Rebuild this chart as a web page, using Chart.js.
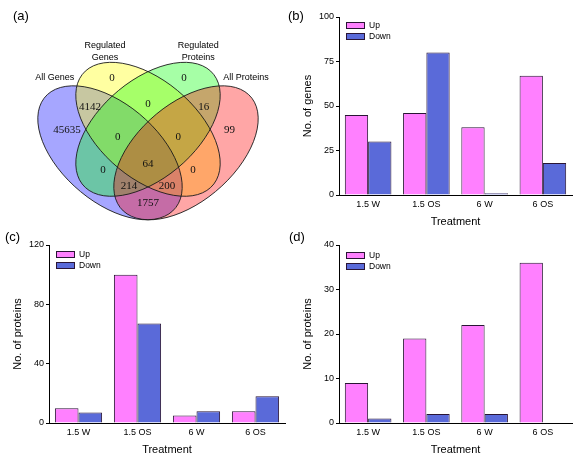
<!DOCTYPE html>
<html>
<head>
<meta charset="utf-8">
<script src="https://cdn.jsdelivr.net/npm/chart.js@4.4.0/dist/chart.umd.min.js"></script>
<style>
  html, body { margin: 0; padding: 0; background: #fff; }
  #wrap { position: relative; width: 587px; height: 460px; overflow: hidden; font-family: "Liberation Sans", Arial, sans-serif; }
  .panel { position: absolute; }
  .tag { position: absolute; font-size: 13px; color: #000; line-height: 15px; }
</style>
</head>
<body>
<div id="wrap">
  <div class="panel" style="left:0;top:0;width:290px;height:230px"><canvas id="venn"></canvas></div>
  <div class="panel" style="left:290px;top:0;width:297px;height:230px"><canvas id="genes"></canvas></div>
  <div class="panel" style="left:0;top:230px;width:290px;height:230px"><canvas id="prot1"></canvas></div>
  <div class="panel" style="left:290px;top:230px;width:297px;height:230px"><canvas id="prot2"></canvas></div>
  <div class="tag" style="left:13px;top:8px">(a)</div>
  <div class="tag" style="left:288px;top:8px">(b)</div>
  <div class="tag" style="left:5px;top:229px">(c)</div>
  <div class="tag" style="left:289px;top:229px">(d)</div>
</div>
<script>
// bar data
const treatments = ['1.5 W', '1.5 OS', '6 W', '6 OS'];
const geneUp = [45, 46, 38, 67];
const geneDown = [30, 80, 1, 18];
const protUpC = [10, 100, 5, 8];
const protDownC = [7, 67, 8, 18];
const protUpD = [9, 19, 22, 36];
const protDownD = [1, 2, 2, 0];

// venn data
const vennSets = ['All Genes', 'Regulated Genes', 'Regulated Proteins', 'All Proteins'];
const vennCounts = [45635, 4142, 0, 0, 0, 16, 99, 0, 0, 0, 64, 0, 214, 200, 1757];

// where each count sits (venn units)
const vennLabelPos = [
  [0.180, 0.567], [0.271, 0.664], [0.358, 0.787], [0.642, 0.787], [0.500, 0.677],
  [0.720, 0.664], [0.822, 0.567], [0.381, 0.537], [0.619, 0.537], [0.322, 0.397],
  [0.500, 0.423], [0.678, 0.397], [0.425, 0.330], [0.575, 0.330], [0.500, 0.258]
];
const setNamePos = [
  [[0.132, 0.791]], [[0.330, 0.927], [0.330, 0.876]],
  [[0.698, 0.927], [0.698, 0.876]], [[0.887, 0.791]]
];
const setNameLines = [['All Genes'], ['Regulated', 'Genes'], ['Regulated', 'Proteins'], ['All Proteins']];
const ellipses = [
  { cx: 0.35, cy: 0.47, rot: -45, color: 'rgba(0,0,255,0.35)' },
  { cx: 0.50, cy: 0.57, rot: -45, color: 'rgba(255,255,0,0.37)' },
  { cx: 0.50, cy: 0.57, rot: 45, color: 'rgba(0,255,0,0.35)' },
  { cx: 0.65, cy: 0.47, rot: 45, color: 'rgba(255,0,0,0.35)' }
];

Chart.defaults.font.family = '"Liberation Sans", Arial, sans-serif';
Chart.defaults.color = '#000';

const upColor = '#ff80ff';
const downColor = '#5a6ad9';
const edge = '#2a1535';

const vennPlugin = {
  id: 'venn',
  beforeDatasetsDraw(chart) {
    const { ctx, scales: { x, y } } = chart;
    const sx = x.getPixelForValue(1) - x.getPixelForValue(0);
    const sy = y.getPixelForValue(0) - y.getPixelForValue(1);
    const path = (e) => {
      ctx.save();
      ctx.beginPath();
      ctx.translate(x.getPixelForValue(e.cx), y.getPixelForValue(e.cy));
      ctx.scale(sx, -sy);
      ctx.rotate(e.rot * Math.PI / 180);
      ctx.ellipse(0, 0, 0.35, 0.2, 0, 0, Math.PI * 2);
      ctx.restore();
    };
    ellipses.forEach(e => {
      path(e);
      ctx.fillStyle = e.color;
      ctx.fill();
    });
    ellipses.forEach(e => {
      path(e);
      ctx.strokeStyle = '#1a1a1a';
      ctx.lineWidth = 0.9;
      ctx.stroke();
    });
  },
  afterDatasetsDraw(chart) {
    const { ctx, scales: { x, y } } = chart;
    const meta = chart.getDatasetMeta(0);
    ctx.save();
    ctx.textAlign = 'center';
    ctx.textBaseline = 'middle';
    ctx.fillStyle = '#111';
    ctx.font = '11px "Liberation Serif", "DejaVu Serif", serif';
    meta.data.forEach((pt, i) => {
      ctx.fillText(String(vennCounts[i]), pt.x, pt.y);
    });
    ctx.font = '9px "Liberation Sans", Arial, sans-serif';
    ctx.fillStyle = '#000';
    setNameLines.forEach((lines, i) => {
      lines.forEach((t, j) => {
        const p = setNamePos[i][j];
        ctx.fillText(t, x.getPixelForValue(p[0]), y.getPixelForValue(p[1]));
      });
    });
    ctx.restore();
  }
};

// small boxed legend tucked in the top-left corner of the plot
const boxLegend = {
  id: 'boxLegend',
  afterDraw(chart, args, opts) {
    const { ctx, chartArea } = chart;
    ctx.save();
    ctx.font = '8.5px "Liberation Sans", Arial, sans-serif';
    ctx.textBaseline = 'middle';
    ctx.textAlign = 'left';
    chart.data.datasets.forEach((ds, i) => {
      const bx = chartArea.left + 7;
      const by = chartArea.top + opts.dy + i * 11;
      ctx.fillStyle = ds.backgroundColor;
      ctx.fillRect(bx, by, 18, 6);
      ctx.strokeStyle = ds.borderColor;
      ctx.lineWidth = 1;
      ctx.strokeRect(bx + 0.5, by + 0.5, 18, 6);
      ctx.fillStyle = '#000';
      ctx.fillText(ds.label, bx + 23, by + 3.5);
    });
    ctx.restore();
  }
};

new Chart(document.getElementById('venn'), {
  type: 'scatter',
  data: {
    datasets: [{
      label: vennSets.join(' / '),
      data: vennLabelPos.map(p => ({ x: p[0], y: p[1] })),
      pointRadius: 0
    }]
  },
  options: {
    responsive: true,
    maintainAspectRatio: false,
    animation: false,
    layout: { padding: { left: 34, right: 28, top: 40, bottom: 2 } },
    scales: {
      x: { display: false, min: 0.05, max: 0.95 },
      y: { display: false, min: 0.15, max: 0.95 }
    },
    plugins: { legend: { display: false }, tooltip: { enabled: false } }
  },
  plugins: [vennPlugin]
});

function barChart(id, up, down, yMax, yStep, yTitle, o) {
  return new Chart(document.getElementById(id), {
    type: 'bar',
    data: {
      labels: treatments,
      datasets: [
        { label: 'Up', data: up, backgroundColor: upColor, borderColor: edge, borderWidth: 1 },
        { label: 'Down', data: down, backgroundColor: downColor, borderColor: edge, borderWidth: 1 }
      ]
    },
    options: {
      responsive: true,
      maintainAspectRatio: false,
      animation: false,
      layout: { padding: { top: o.top, right: o.right, left: 0, bottom: 0 } },
      datasets: { bar: { categoryPercentage: 0.8, barPercentage: 1 } },
      plugins: {
        legend: { display: false },
        tooltip: { enabled: false },
        boxLegend: { dy: o.legendY }
      },
      scales: {
        x: {
          grid: { display: false, drawTicks: false },
          border: { color: '#000', width: 1 },
          ticks: { padding: 4, font: { size: 9 }, color: '#000' },
          title: { display: true, text: 'Treatment', font: { size: 11 }, color: '#000', padding: { top: 0, bottom: o.titleBottom } },
          afterFit: s => { s.height = 230 - o.bottom; }
        },
        y: {
          min: 0,
          max: yMax,
          ticks: { stepSize: yStep, padding: 2, font: { size: 9 }, color: '#000' },
          grid: { drawOnChartArea: false, tickLength: 3, color: '#000' },
          border: { color: '#000', width: 1 },
          title: { display: true, text: yTitle, font: { size: 11 }, color: '#000', padding: { top: 11, bottom: 0 } },
          afterFit: s => { s.width = 49; }
        }
      }
    },
    plugins: [boxLegend]
  });
}

barChart('genes', geneUp, geneDown, 100, 25, 'No. of genes', { top: 17, right: 15, bottom: 195, titleBottom: 1, legendY: 5 });
barChart('prot1', protUpC, protDownC, 120, 40, 'No. of proteins', { top: 15, right: 5, bottom: 193, titleBottom: 3, legendY: 6 });
barChart('prot2', protUpD, protDownD, 40, 10, 'No. of proteins', { top: 15, right: 15, bottom: 193, titleBottom: 3, legendY: 7 });
</script>
</body>
</html>
